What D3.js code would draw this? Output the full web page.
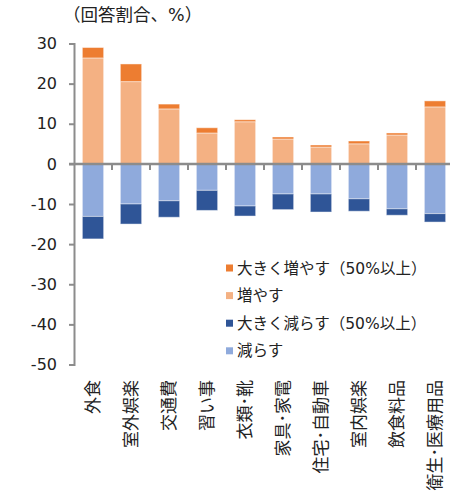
<!DOCTYPE html>
<html>
<head>
<meta charset="utf-8">
<script src="https://cdnjs.cloudflare.com/ajax/libs/d3/7.8.5/d3.min.js"></script>
<style>
  body { margin: 0; background: #fff; }
  svg text { font-family: "DejaVu Sans", "Noto Sans CJK JP", sans-serif; fill: #222; }
  .jp { font-family: "Noto Sans CJK JP", sans-serif; }
</style>
</head>
<body>
<div id="chart"></div>
<script>
// categories and values (回答割合, %)
var categories = ["外食", "室外娯楽", "交通費", "習い事", "衣類･靴", "家具･家電", "住宅･自動車", "室内娯楽", "飲食料品", "衛生･医療用品"];
var increase = [26.4, 20.5, 13.7, 7.7, 10.5, 6.2, 4.2, 5.0, 7.2, 14.2];
var increaseBig = [2.6, 4.4, 1.2, 1.3, 0.5, 0.5, 0.5, 0.7, 0.5, 1.5];
var decrease = [-13.1, -10.0, -9.2, -6.6, -10.5, -7.5, -7.5, -8.7, -11.2, -12.4];
var decreaseBig = [-5.6, -5.0, -4.1, -5.0, -2.5, -3.9, -4.5, -3.1, -1.6, -2.1];
var yTicks = [30, 20, 10, 0, -10, -20, -30, -40, -50];
var seriesNames = ["大きく増やす（50%以上）", "増やす", "大きく減らす（50%以上）", "減らす"];
var colors = ["#ED7D31", "#F4B183", "#2F5597", "#8FAADC"];

var width = 450, height = 493;

var svg = d3.select("#chart").append("svg")
    .attr("width", width)
    .attr("height", height);

// scales
var x = d3.scaleBand()
    .domain(categories)
    .range([74, 454])
    .paddingInner(0.44)
    .paddingOuter(0.22);
var y = d3.scaleLinear()
    .domain([-50, 30])
    .range([364.5, 43.5]);

// stacked segments: [category index, from, to, color index]
var segs = [];
for (var i = 0; i < categories.length; i++) {
  segs.push([i, 0, increase[i], 1]);
  segs.push([i, increase[i], increase[i] + increaseBig[i], 0]);
  segs.push([i, 0, decrease[i], 3]);
  segs.push([i, decrease[i], decrease[i] + decreaseBig[i], 2]);
}

svg.selectAll("rect.bar")
    .data(segs)
    .enter().append("rect")
      .attr("class", "bar")
      .attr("x", function(d) { return x(categories[d[0]]); })
      .attr("width", x.bandwidth())
      .attr("y", function(d) { return y(Math.max(d[1], d[2])); })
      .attr("height", function(d) { return Math.abs(y(d[1]) - y(d[2])); })
      .style("fill", function(d) { return colors[d[3]]; })
      .style("stroke", "#fff")
      .style("stroke-opacity", 0.45)
      .style("stroke-width", 1);

// y axis (plain hyphen for negatives)
var yAxis = svg.append("g")
    .attr("transform", "translate(74,0)")
    .call(d3.axisLeft(y).tickValues(yTicks).tickSize(5).tickPadding(12)
      .tickFormat(function(d) { return String(d); }));
yAxis.select(".domain").style("stroke", "#8c8c8c").style("stroke-width", 2);
yAxis.selectAll(".tick line").style("stroke", "#8c8c8c").style("stroke-width", 2);
yAxis.selectAll("text").style("font-size", "16px").style("fill", "#222");

// x axis at zero with ticks between categories
var xAxis = svg.append("g");
xAxis.append("line")
    .attr("x1", 69).attr("x2", 454)
    .attr("y1", y(0)).attr("y2", y(0))
    .style("stroke", "#8c8c8c").style("stroke-width", 2.5);
xAxis.selectAll("line.tk")
    .data(categories.slice(1))
    .enter().append("line")
      .attr("class", "tk")
      .attr("x1", function(d) { return x(d) - x.step() * x.paddingInner() / 2; })
      .attr("x2", function(d) { return x(d) - x.step() * x.paddingInner() / 2; })
      .attr("y1", y(0)).attr("y2", y(0) + 6)
      .style("stroke", "#8c8c8c").style("stroke-width", 2);

// category labels, rotated
svg.selectAll("text.cat")
    .data(categories)
    .enter().append("text")
      .attr("class", "cat jp")
      .attr("text-anchor", "end")
      .attr("transform", function(d) {
        return "translate(" + (x(d) + x.bandwidth() / 2 + 6) + ",380)rotate(-90)";
      })
      .style("font-size", "17px")
      .text(function(d) { return d; });

// unit label
svg.append("text")
    .attr("x", 63)
    .attr("y", 21)
    .style("font-size", "17.5px")
    .text("（回答割合、%）");

// legend
var legend = svg.selectAll("g.legend")
    .data(seriesNames)
    .enter().append("g")
      .attr("class", "legend")
      .attr("transform", function(d, i) { return "translate(226," + (268 + i * 27.6) + ")"; });
legend.append("rect")
    .attr("x", 0).attr("y", -3.5)
    .attr("width", 7).attr("height", 7)
    .style("fill", function(d, i) { return colors[i]; });
legend.append("text")
    .attr("x", 11)
    .attr("dy", "0.36em")
    .style("font-size", "15.5px")
    .text(function(d) { return d; });
</script>
</body>
</html>
